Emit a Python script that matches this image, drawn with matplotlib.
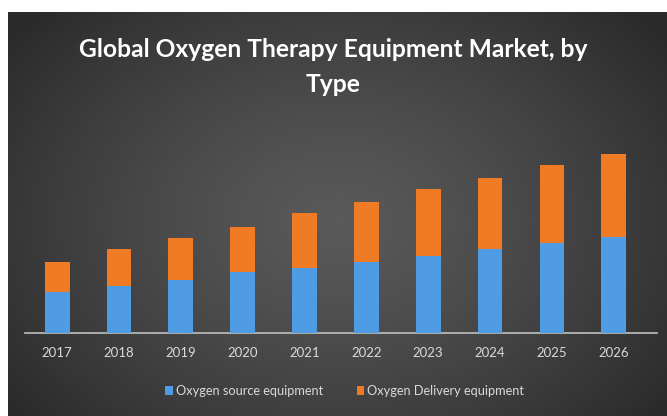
import numpy as np
from matplotlib import pyplot as plt

years = ["2017", "2018", "2019", "2020", "2021", "2022", "2023", "2024", "2025", "2026"]
source = [41, 47, 53, 61, 65, 71, 77, 84, 90, 96]
delivery = [30, 37, 42, 45, 55, 60, 67, 71, 78, 83]

title = "Global Oxygen Therapy Equipment Market, by\nType"
labels = ["Oxygen source equipment", "Oxygen Delivery equipment"]
blue = "#4f9be4"
orange = "#f07b25"

W, H = 667, 416
fig = plt.figure(figsize=(W / 100, H / 100), dpi=100)
fig.patch.set_facecolor("white")

# dark panel with radial gradient
bg = fig.add_axes([8 / W, 0, 1 - 8 / W, 1 - 12 / H])
bg.set_axis_off()
yy, xx = np.mgrid[0:1:300j, 0:1:500j]
r = np.sqrt(((xx - 0.5) / 0.62) ** 2 + ((yy - 0.52) / 0.75) ** 2)
r = np.clip(r, 0, 1)
shade = 0.35 - 0.18 * r ** 1.3
img = np.dstack([shade, shade, shade])
bg.imshow(img, aspect="auto", extent=[0, 1, 0, 1], interpolation="bicubic")
bg.set_xlim(0, 1)
bg.set_ylim(0, 1)

fam = ["Lato", "DejaVu Sans"]
fig.text(0.5, 1 - 67 / H, title, ha="center", va="center", color="white",
         fontsize=17.7, fontweight="bold", family=fam, linespacing=1.65)

ax = fig.add_axes([25 / W, 1 - 333 / H, (657 - 25) / W, (333 - 140) / H])
ax.set_facecolor("none")
x = np.arange(len(years))
ax.bar(x, source, width=0.4, color=blue, label=labels[0], zorder=3)
ax.bar(x, delivery, width=0.4, bottom=source, color=orange, label=labels[1], zorder=3)
ax.set_xlim(-0.52, 9.7)
ax.set_ylim(0, 193)
ax.set_xticks(x)
ax.set_xticklabels(years, color="#d9d9d9", fontsize=9.5, family=fam)
ax.tick_params(axis="x", length=0, pad=10)
ax.set_yticks([])
for s in ["top", "right", "left"]:
    ax.spines[s].set_visible(False)
ax.spines["bottom"].set_color("#bfbfbf")
ax.spines["bottom"].set_linewidth(1.2)

leg = fig.legend(loc="center", bbox_to_anchor=(0.517, 1 - 391 / H), ncol=2,
                 frameon=False, handlelength=0.6, handleheight=0.6,
                 handletextpad=0.25, columnspacing=2.6,
                 prop={"family": fam, "size": 9.2})
for t in leg.get_texts():
    t.set_color("#d9d9d9")

fig.savefig("out.png", dpi=100, facecolor=fig.get_facecolor())
